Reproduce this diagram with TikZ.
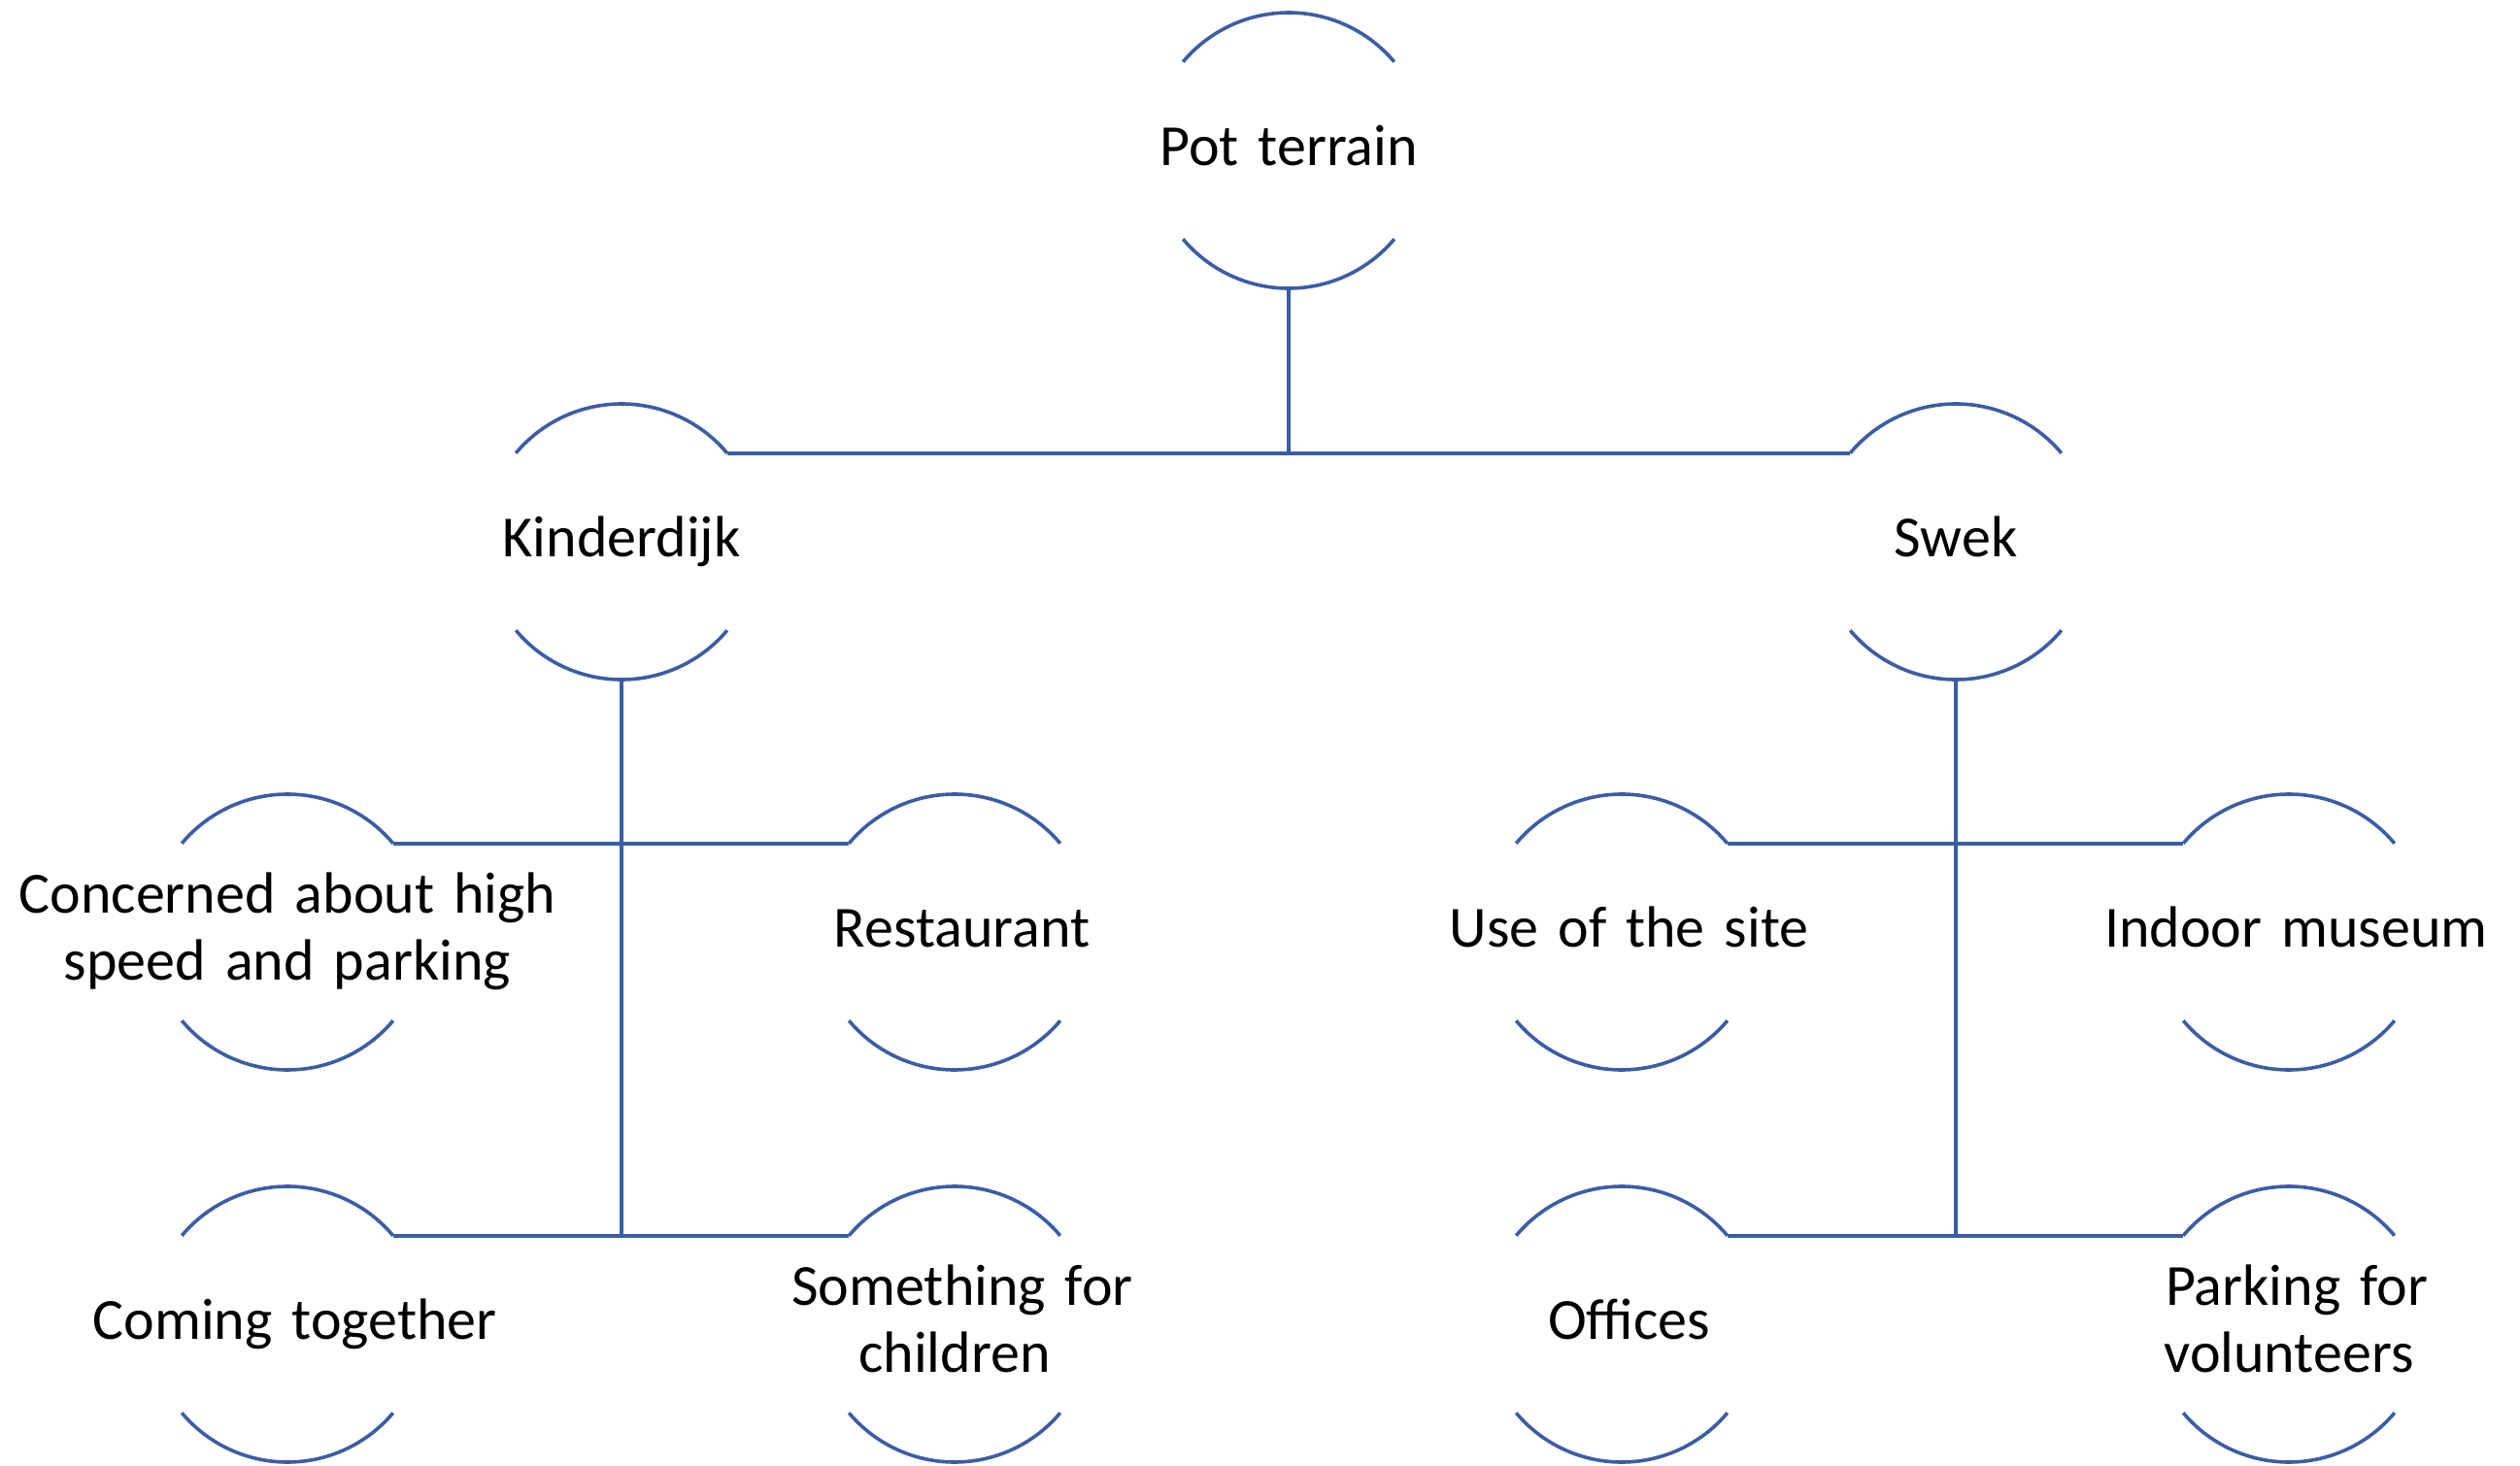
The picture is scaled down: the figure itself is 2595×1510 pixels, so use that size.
\documentclass[tikz,border=0pt]{standalone}
\usepackage{fontspec}
\setmainfont{Carlito}
\definecolor{lineblue}{RGB}{59,93,165}
\newcommand{\lblfont}{\fontsize{15.0}{17.25}\selectfont\fontdimen2\font=0.19em\relax}
\tikzset{
  hub/.style={circle, minimum size=71pt, inner sep=0pt, outer sep=0pt},
  ln/.style={draw=lineblue, line width=0.9pt},
  lbl/.style={anchor=base, inner sep=0pt, text width=160pt, align=center,
              font=\lblfont, text=black}
}
\newcommand{\hubarcs}[1]{%
  \draw[ln] (#1.40) arc[start angle=40, end angle=140, radius=35.5pt];
  \draw[ln] (#1.-140) arc[start angle=-140, end angle=-40, radius=35.5pt];
}
\begin{document}
\begin{tikzpicture}[x=0.25pt, y=0.25pt]
\useasboundingbox (0,0) rectangle (2595,-1510);
% hub nodes
\node[hub] (pot) at (1327,-155) {};
\node[hub] (kin) at (640,-558) {};
\node[hub] (swk) at (2014,-558) {};
\node[hub] (con) at (296,-960) {};
\node[hub] (res) at (983,-960) {};
\node[hub] (use) at (1670,-960) {};
\node[hub] (ind) at (2357,-960) {};
\node[hub] (com) at (296,-1364) {};
\node[hub] (som) at (983,-1364) {};
\node[hub] (off) at (1670,-1364) {};
\node[hub] (par) at (2357,-1364) {};
% arcs
\foreach \n in {pot,kin,swk,con,res,use,ind,com,som,off,par}{\hubarcs{\n}}
% connectors
\draw[ln] (kin.40) -- (swk.140);
\draw[ln] (pot.south) -- (pot.south |- kin.40);
\draw[ln] (con.40) -- (res.140);
\draw[ln] (com.40) -- (som.140);
\draw[ln] (kin.south) -- (kin.south |- com.40);
\draw[ln] (use.40) -- (ind.140);
\draw[ln] (off.40) -- (par.140);
\draw[ln] (swk.south) -- (swk.south |- off.40);
% labels
\node[lbl] (potT) at (1327,-170) {Pot terrain};
\node[lbl] (kinT) at (640,-573) {Kinderdijk};
\node[lbl] (swkT) at (2014,-573) {Swek};
\node[lbl] (conT) at (296,-940.5) {Concerned about high\\speed and parking};
\node[lbl] (resT) at (990.5,-975) {Restaurant};
\node[lbl] (useT) at (1677.5,-975) {Use of the site};
\node[lbl] (indT) at (2364.5,-975) {Indoor museum};
\node[lbl] (comT) at (303.5,-1379) {Coming together};
\node[lbl] (somT) at (983,-1344.5) {\hspace*{4pt}Something for\\children};
\node[lbl] (offT) at (1677.5,-1379) {Offices};
\node[lbl] (parT) at (2357,-1344.5) {\hspace*{4pt}Parking for\\volunteers};
\end{tikzpicture}
\end{document}
